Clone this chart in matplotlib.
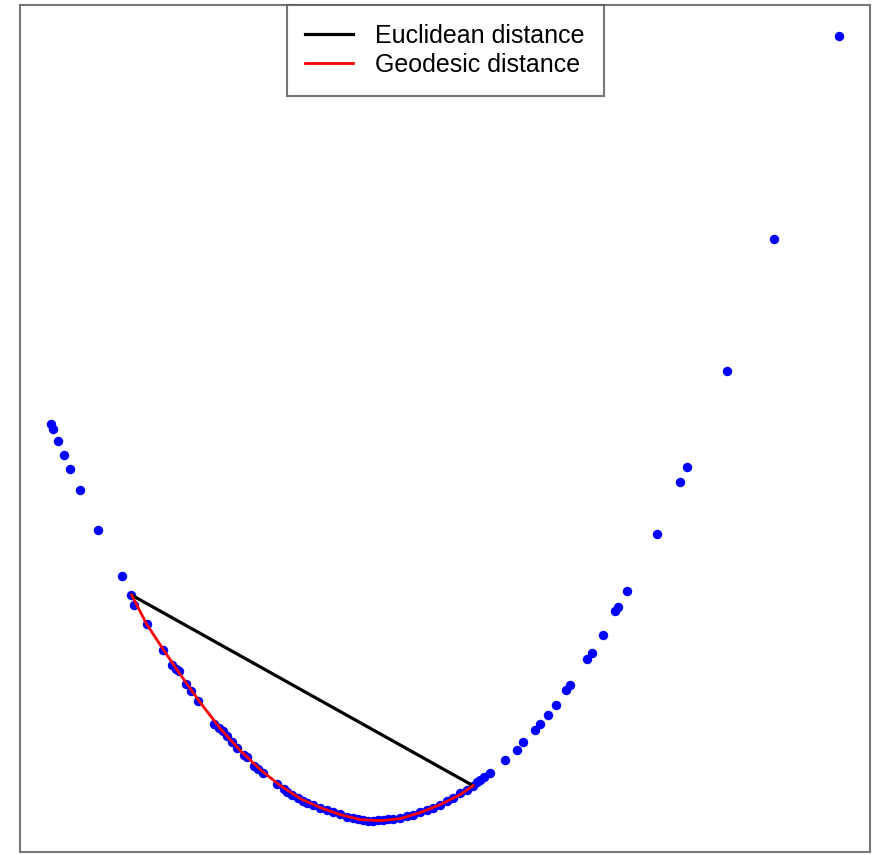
import matplotlib
matplotlib.use("Agg")
import matplotlib.pyplot as plt

plt.rcParams["font.family"] = ["Liberation Sans", "DejaVu Sans"]

# sample points on the curve
x_pts = [-3.223, -3.203, -3.153, -3.097, -3.037, -2.94, -2.76, -2.52, -2.423, -2.40,
         -2.265, -2.103, -2.013, -1.98, -1.95, -1.88, -1.83, -1.76, -1.60, -1.55,
         -1.51, -1.46, -1.413, -1.363, -1.297, -1.26, -1.197, -1.15, -1.10, -0.963,
         -0.897, -0.86, -0.81, -0.75, -0.70, -0.66, -0.60, -0.53, -0.46, -0.40,
         -0.33, -0.26, -0.20, -0.15, -0.10, -0.05, 0.00, 0.05, 0.10, 0.15,
         0.20, 0.27, 0.34, 0.40, 0.47, 0.54, 0.60, 0.67, 0.74, 0.80,
         0.87, 0.94, 1.00, 1.04, 1.07, 1.11, 1.17, 1.32, 1.44, 1.50,
         1.62, 1.67, 1.75, 1.83, 1.93, 1.97, 2.14, 2.19, 2.30, 2.42,
         2.45, 2.54, 2.84, 3.07, 3.14, 3.54, 4.01, 4.66]
y_pts = [3.98, 3.92, 3.80, 3.66, 3.52, 3.31, 2.91, 2.45, 2.26, 2.16,
         1.97, 1.71, 1.56, 1.52, 1.50, 1.37, 1.30, 1.20, 0.97, 0.93,
         0.90, 0.85, 0.79, 0.73, 0.66, 0.64, 0.55, 0.52, 0.48, 0.37,
         0.32, 0.29, 0.26, 0.23, 0.20, 0.18, 0.16, 0.13, 0.11, 0.09,
         0.07, 0.04, 0.03, 0.02, 0.01, 0.00, 0.00, 0.01, 0.01, 0.02,
         0.02, 0.03, 0.05, 0.06, 0.09, 0.11, 0.13, 0.16, 0.20, 0.23,
         0.28, 0.31, 0.35, 0.39, 0.41, 0.44, 0.48, 0.61, 0.71, 0.79,
         0.91, 0.97, 1.06, 1.16, 1.31, 1.36, 1.62, 1.68, 1.86, 2.10,
         2.14, 2.30, 2.87, 3.39, 3.54, 4.51, 5.83, 7.86]

# euclidean segment between the two chosen points
eucl_x = [-2.42, 1.00]
eucl_y = [2.26, 0.35]

# geodesic path along the curve
geo_x = [-2.42, -2.27, -2.10, -1.93, -1.73, -1.53, -1.33, -1.13, -0.93, -0.73,
         -0.53, -0.33, -0.13, 0.07, 0.27, 0.47, 0.67, 0.87, 1.00]
geo_y = [2.26, 1.97, 1.71, 1.46, 1.18, 0.92, 0.70, 0.51, 0.35, 0.22,
         0.13, 0.06, 0.01, 0.00, 0.02, 0.08, 0.16, 0.26, 0.35]

fig = plt.figure(figsize=(8.75, 8.55), dpi=100)
ax = fig.add_axes([20 / 875, 3 / 855, 850 / 875, 847 / 855])

ax.plot(x_pts, y_pts, "o", color="blue", markersize=6.8, markeredgewidth=0, zorder=2)
ax.plot(eucl_x, eucl_y, color="black", linewidth=2.3, label="Euclidean distance", zorder=3)
ax.plot(geo_x, geo_y, color="red", linewidth=2.0, label="Geodesic distance", zorder=4)

ax.margins(0.04)
ax.set_xticks([])
ax.set_yticks([])
for s in ax.spines.values():
    s.set_color("#777777")
    s.set_linewidth(1.5)

leg = ax.legend(loc="upper center", bbox_to_anchor=(0.5, 1.0), fontsize=18,
                frameon=True, fancybox=False, borderaxespad=0, borderpad=0.75,
                labelspacing=0.22, handlelength=1.9, handletextpad=0.9)
leg.get_frame().set_edgecolor("#555555")
leg.get_frame().set_linewidth(1.5)

fig.savefig("out.png", dpi=100)
